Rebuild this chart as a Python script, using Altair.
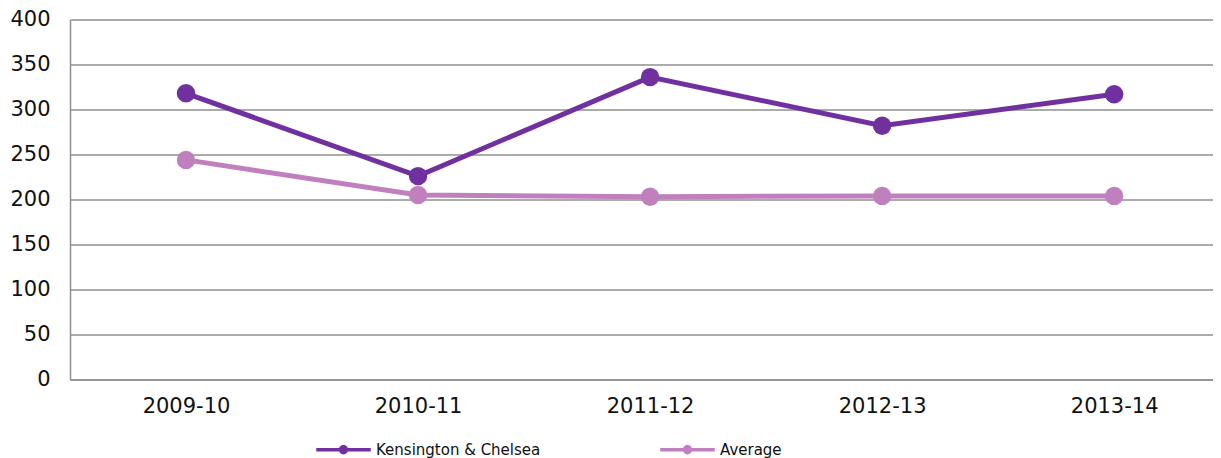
import altair as alt
import pandas as pd

years = ["2009-10", "2010-11", "2011-12", "2012-13", "2013-14"]
kc_values = [318, 226, 336, 282, 317]
avg_values = [244, 205, 203, 204, 204]
series_names = ["Kensington & Chelsea", "Average"]
series_colors = ["#7030A0", "#C080BE"]
y_ticks = [0, 50, 100, 150, 200, 250, 300, 350, 400]

rows = []
for name, vals in zip(series_names, [kc_values, avg_values]):
    for yr, v in zip(years, vals):
        rows.append({"year": yr, "value": v, "series": name})
df = pd.DataFrame(rows)

FONT = "DejaVu Sans"
GRID = "#8f8f8f"

x_enc = alt.X(
    "year:N",
    sort=years,
    scale=alt.Scale(type="point", padding=0.463, align=0.54),
    axis=alt.Axis(
        title=None, labelAngle=0, ticks=False, grid=False,
        domainColor=GRID, domainWidth=1.5,
        labelFont=FONT, labelFontSize=21, labelColor="#111111", labelPadding=16,
    ),
)
y_enc = alt.Y(
    "value:Q",
    scale=alt.Scale(domain=[0, 400], nice=False),
    axis=alt.Axis(
        title=None, values=y_ticks, ticks=False,
        domainColor=GRID, domainWidth=1.5,
        gridColor=GRID, gridWidth=1.5,
        labelFont=FONT, labelFontSize=21, labelColor="#111111", labelPadding=20,
    ),
)
color_scale = alt.Scale(domain=series_names, range=series_colors)

legend_path = (
    "M-1,-0.06H1V0.06H-1Z "
    "M-0.17,0A0.17,0.17 0 1,1 0.17,0A0.17,0.17 0 1,1 -0.17,0Z"
)
legend = alt.Legend(
    title=None, orient="none", legendX=246, legendY=402.5,
    direction="horizontal", symbolType=legend_path, symbolSize=2970,
    symbolStrokeWidth=0, symbolOpacity=1, labelFont=FONT, labelFontSize=15,
    labelColor="#111111", labelLimit=400, labelOffset=5,
    columnPadding=119, padding=0,
)

lines = alt.Chart(df).mark_line(strokeWidth=5).encode(
    x=x_enc, y=y_enc,
    color=alt.Color("series:N", scale=color_scale, sort=series_names, legend=legend),
)

points = alt.Chart(df).mark_circle(size=340, opacity=1).encode(
    x=x_enc, y=y_enc,
    color=alt.Color("series:N", scale=color_scale, sort=series_names, legend=legend),
)

chart = (
    alt.layer(lines, points)
    .properties(
        width=1143, height=360,
        autosize=alt.AutoSizeParams(type="none"),
        padding={"left": 62, "top": 11.5, "right": 0, "bottom": 78.5},
    )
    .configure_view(stroke=None)
)

chart.save("out.html", embed_options={"renderer": "svg", "actions": False})
